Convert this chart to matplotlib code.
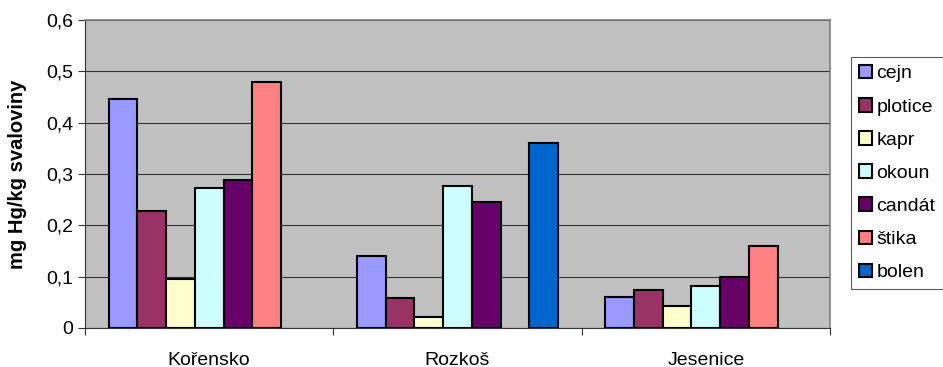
import numpy as np
import matplotlib
matplotlib.use('Agg')
import matplotlib.pyplot as plt
from matplotlib.ticker import FuncFormatter, FixedLocator

plt.rcParams['font.family'] = ['Liberation Sans', 'DejaVu Sans']

lokality = ['Kořensko', 'Rozkoš', 'Jesenice']
druhy = ['cejn', 'plotice', 'kapr', 'okoun', 'candát', 'štika', 'bolen']
barvy = ['#9999FF', '#993366', '#FFFFCC', '#CCFFFF', '#660066', '#FF8080', '#0066CC']

# mg Hg/kg svaloviny, NaN = druh nebyl odloven
cejn = [0.446, 0.140, 0.061]
plotice = [0.227, 0.058, 0.075]
kapr = [0.095, 0.021, 0.043]
okoun = [0.273, 0.277, 0.081]
candat = [0.288, 0.245, 0.100]
stika = [0.479, np.nan, 0.160]
bolen = [np.nan, 0.360, np.nan]
hodnoty = [cejn, plotice, kapr, okoun, candat, stika, bolen]

fig = plt.figure(figsize=(9.43, 3.67), dpi=100)
ax = fig.add_axes([85 / 943, 39 / 367, 745 / 943, 308 / 367])
ax.set_facecolor('#C0C0C0')

x = np.arange(len(lokality))
sirka = 0.1155
for j, (druh, vals, c) in enumerate(zip(druhy, hodnoty, barvy)):
    ax.bar(x + (j - 3) * sirka, vals, width=sirka, color=c, edgecolor='black',
           linewidth=1.5, label=druh, zorder=3)

ax.set_xlim(-0.5, 2.5)
ax.set_ylim(0, 0.6)
ax.set_yticks(np.arange(0, 0.61, 0.1))
ax.yaxis.set_major_formatter(FuncFormatter(
    lambda v, p: '0' if abs(v) < 1e-9 else f'{v:.1f}'.replace('.', ',')))
ax.grid(axis='y', color='#333333', linewidth=0.8, zorder=1)

# popisky kategorii uprostred, znacky mezi kategoriemi
ax.set_xticks(x)
ax.set_xticklabels(lokality, fontsize=14)
ax.tick_params(axis='x', which='major', length=0, pad=17)
ax.xaxis.set_minor_locator(FixedLocator([-0.5, 0.5, 1.5, 2.5]))
ax.tick_params(axis='x', which='minor', length=5, width=0.8, color='#333333', direction='out')
ax.tick_params(axis='y', labelsize=14, length=5, width=0.8, color='#333333', direction='out')

for s in ['top', 'right']:
    ax.spines[s].set_color('#808080')
    ax.spines[s].set_linewidth(1.2)
for s in ['left', 'bottom']:
    ax.spines[s].set_color('#333333')
    ax.spines[s].set_linewidth(0.8)

ax.set_ylabel('mg Hg/kg svaloviny', fontsize=14.5, fontweight='bold', labelpad=14)

leg = fig.legend(loc='upper left', bbox_to_anchor=(851 / 943, 1 - 57 / 367),
                 fontsize=14, frameon=True, fancybox=False, edgecolor='#333333',
                 handlelength=0.7, handleheight=0.7, handletextpad=0.2,
                 labelspacing=0.8, borderpad=0.4, borderaxespad=0)
leg.get_frame().set_linewidth(0.8)
for h in leg.legend_handles:
    h.set_linewidth(1.5)

fig.savefig('out.png', dpi=100)
